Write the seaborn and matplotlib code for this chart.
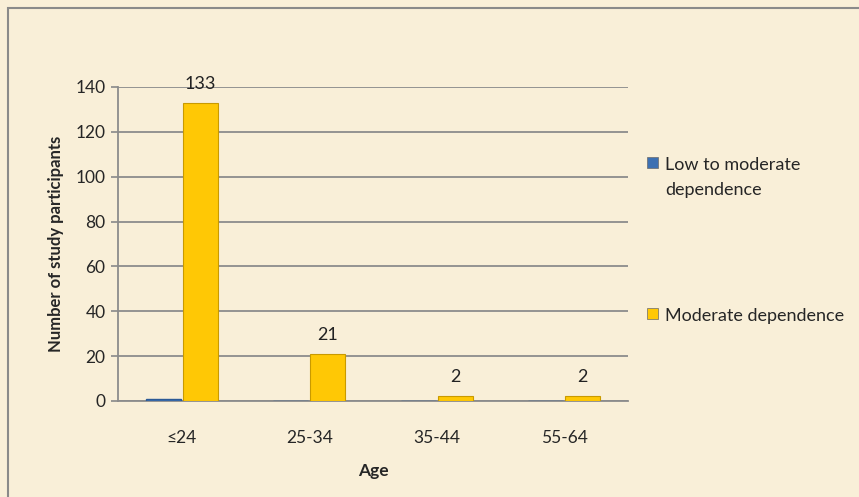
import pandas as pd
import matplotlib.pyplot as plt
import seaborn as sns
from matplotlib.patches import Rectangle

# data
ages = ["≤24", "25-34", "35-44", "55-64"]
low_to_moderate = [1, 0, 0, 0]
moderate = [133, 21, 2, 2]
series = ["Low to moderate\ndependence", "Moderate dependence"]

df = pd.DataFrame({
    "Age": ages * 2,
    "Count": low_to_moderate + moderate,
    "Group": [series[0]] * len(ages) + [series[1]] * len(ages),
})

sns.set_theme(style="white")
plt.rcParams["font.family"] = ["Lato", "DejaVu Sans"]

bg = "#f9efd8"
fig = plt.figure(figsize=(8.59, 4.97), dpi=100, facecolor=bg)
ax = fig.add_axes([0.1374, 0.1932, 0.5937, 0.6318], facecolor=bg)

# outer frame
fig.patches.append(Rectangle((0.009, -0.01), 1.0, 0.994, transform=fig.transFigure,
                             fill=False, edgecolor="#8a8a8a", lw=1.5, zorder=0))

palette = {series[0]: "#3d70b2", series[1]: "#ffc805"}
sns.barplot(data=df, x="Age", y="Count", hue="Group", palette=palette,
            width=0.58, gap=0.05, ax=ax, zorder=3, saturation=1)

for bar in ax.containers[0]:
    bar.set_edgecolor("#2c5a96")
    bar.set_linewidth(1.0)
for bar in ax.containers[1]:
    bar.set_edgecolor("#c99a00")
    bar.set_linewidth(0.8)
ax.bar_label(ax.containers[1], labels=[str(v) for v in moderate], padding=8,
             fontsize=13, color="#222222")

ax.set_ylim(0, 140)
ax.set_yticks(range(0, 141, 20))
ax.yaxis.grid(True, color="#8c8c8c", lw=1.3, zorder=0)
ax.set_axisbelow(True)
for s in ["top", "right"]:
    ax.spines[s].set_visible(False)
for s in ["left", "bottom"]:
    ax.spines[s].set_color("#8c8c8c")
    ax.spines[s].set_linewidth(1.3)
ax.tick_params(axis="y", left=True, length=5, color="#8c8c8c", labelsize=12.5, pad=4)
ax.tick_params(axis="x", bottom=False, labelsize=12.5, pad=15)

ax.set_xlabel("Age", fontsize=12.5, fontweight="bold", labelpad=12)
ax.set_ylabel("Number of study participants", fontsize=12, fontweight="bold", labelpad=8)

leg = ax.legend(loc="upper left", bbox_to_anchor=(1.005, 0.83), frameon=False,
                fontsize=13, labelspacing=6.05, handlelength=0.6, handleheight=0.6,
                handletextpad=0.4)
for h in leg.legend_handles:
    h.set_edgecolor("#6a6a6a")
    h.set_linewidth(0.5)
for t in leg.get_texts():
    t.set_linespacing(1.75)
# put the swatch next to the first line of a wrapped label
for col in leg._legend_handle_box.get_children():
    for row in col.get_children():
        row.align = "top"

fig.savefig("out.png", dpi=100, facecolor=bg)
